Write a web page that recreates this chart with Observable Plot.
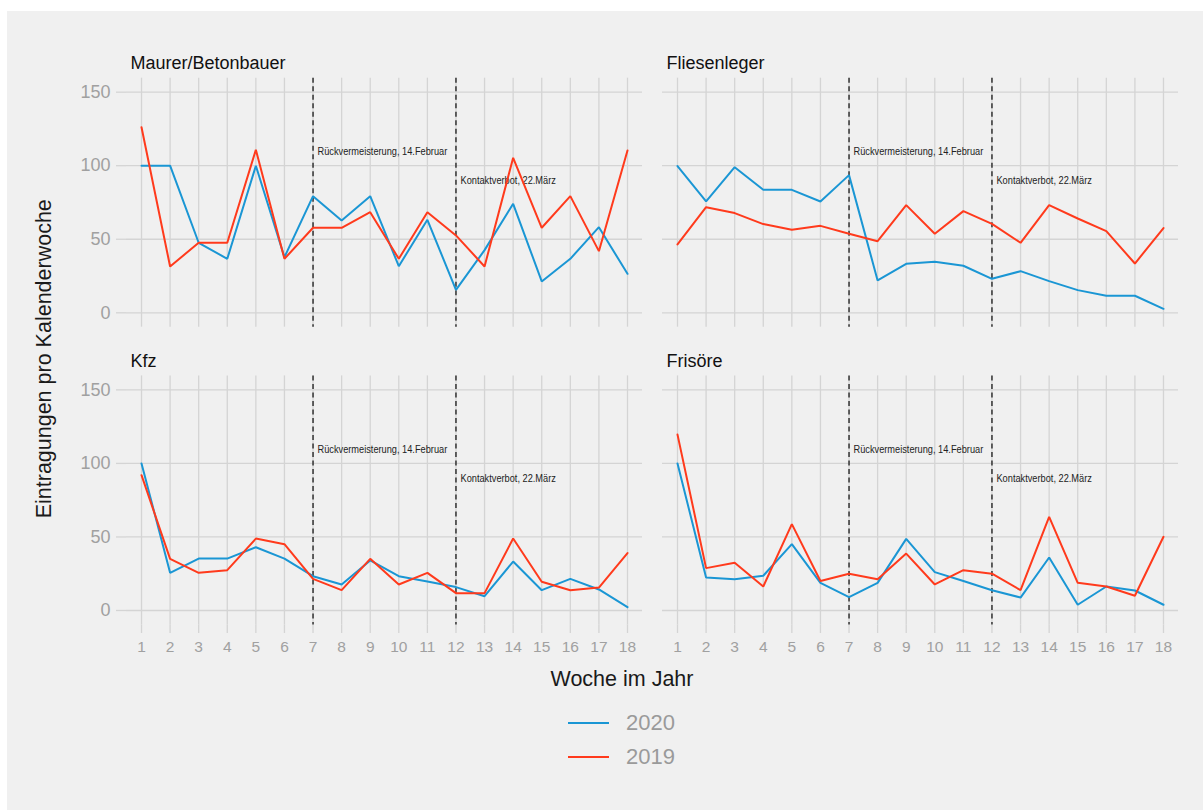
<!DOCTYPE html>
<html>
<head>
<meta charset="utf-8">
<script src="https://cdn.jsdelivr.net/npm/d3@7"></script>
<script src="https://cdn.jsdelivr.net/npm/@observablehq/plot@0.6"></script>
<style>
  html, body { margin: 0; padding: 0; background: #ffffff; width: 1203px; height: 810px; overflow: hidden; }
  #bg { position: absolute; left: 7px; top: 11px; width: 1196px; height: 799px; background: #f0f0f0; }
  #chart { position: absolute; left: 0; top: 0; }
  .ttl { position: absolute; font-family: "Liberation Sans", Arial, sans-serif; font-size: 21.5px; line-height: 21.5px; color: #1a1a1a; white-space: nowrap; text-align: center; }
  #ytitle { width: 400px; height: 21.5px; left: -154.7px; top: 348.25px; transform: rotate(-90deg); transform-origin: 50% 50%; }
  #xtitle { width: 400px; left: 422px; top: 668.8px; }
  .leg { position: absolute; left: 568px; height: 30px; display: flex; align-items: center; font-family: "Liberation Sans", Arial, sans-serif; font-size: 22px; color: #9a9a9a; }
  .leg .key { width: 41px; height: 2.4px; margin-right: 17px; }
</style>
</head>
<body>
<div id="bg"></div>
<div id="chart"></div>
<div id="ytitle" class="ttl">Eintragungen pro Kalenderwoche</div>
<div id="xtitle" class="ttl">Woche im Jahr</div>
<div id="legend"></div>
<script>
// ---- data ----
const weeks = [1,2,3,4,5,6,7,8,9,10,11,12,13,14,15,16,17,18];
const yTicks = [0, 50, 100, 150];
const panels = ["Maurer/Betonbauer", "Fliesenleger", "Kfz", "Frisöre"];
const years = ["2020", "2019"];
const colors = ["#1a96d4", "#ff3a1c"];

const maurer2020  = [100, 100, 47.6, 36.7, 100, 37.8, 79.3, 62.8, 79.3, 31.7, 63.2, 15.6, 42.6, 74.1, 21.3, 36.7, 58.2, 26.5];
const maurer2019  = [126.2, 31.5, 47.6, 47.6, 110.8, 36.7, 57.8, 57.8, 68.4, 36.7, 68.4, 52.6, 31.5, 105.4, 57.8, 79.3, 41.9, 110.4];
const fliesen2020 = [99.7, 75.7, 99, 83.6, 83.6, 75.7, 93.6, 22, 33.3, 34.7, 32, 23.1, 28.3, 21.5, 15.4, 11.6, 11.6, 2.7];
const fliesen2019 = [46.5, 71.8, 67.8, 60.3, 56.4, 59.1, 53.7, 48.7, 73.2, 53.7, 69.1, 60.5, 47.6, 73.2, 64.1, 55.5, 33.5, 57.6];
const kfz2020     = [100, 25.6, 35.3, 35.3, 43, 35.3, 23.3, 17.7, 34, 23.3, 19.7, 15.9, 9.7, 33.3, 13.8, 21.5, 14.3, 2.3];
const kfz2019     = [92, 35.1, 25.6, 27.4, 48.9, 45.1, 21.5, 13.8, 35.1, 17.7, 25.6, 11.8, 11.8, 48.9, 19.5, 13.8, 15.6, 39];
const friseur2020 = [100, 22.4, 21.3, 23.6, 45.1, 18.8, 9.1, 18.8, 48.7, 26.1, 20, 13.8, 8.8, 36, 3.9, 16.3, 13.6, 3.9];
const friseur2019 = [119.6, 28.8, 32.4, 16.3, 58.7, 20, 25, 21.3, 38.7, 17.7, 27.4, 25, 13.8, 63.7, 18.8, 16.3, 10, 50.1];

const eventWeeks  = [7, 12];
const eventLabels = ["Rückvermeisterung, 14.Februar", "Kontaktverbot, 22.März"];
const eventLabelY = [109.9, 90];

// ---- build tables ----
const series = [
  [maurer2020, maurer2019],
  [fliesen2020, fliesen2019],
  [kfz2020, kfz2019],
  [friseur2020, friseur2019]
];
const table = [];
panels.forEach((p, i) => {
  years.forEach((yr, j) => {
    series[i][j].forEach((v, k) => {
      table.push({panel: p, col: i % 2, row: Math.floor(i / 2), year: yr, week: weeks[k], value: v});
    });
  });
});
const panelTable = panels.map((p, i) => ({panel: p, col: i % 2, row: Math.floor(i / 2)}));
const events = eventWeeks.map((w, i) => ({week: w, label: eventLabels[i], y: eventLabelY[i]}));

const gridColor = "#d4d4d4";

const chart = Plot.plot({
  width: 1203,
  height: 660,
  marginLeft: 126,
  marginRight: 25,
  marginTop: 77.7,
  marginBottom: 35.6,
  style: {background: "transparent", fontFamily: "'Liberation Sans', Arial, sans-serif", overflow: "visible"},
  fx: {domain: [0, 1], paddingInner: 0.0373, paddingOuter: 0, round: false, axis: null},
  fy: {domain: [0, 1], paddingInner: 0.1636, paddingOuter: 0, round: false, axis: null},
  x: {domain: [0.475, 18.525]},
  y: {domain: [-9.8, 159.5]},
  color: {domain: years, range: colors},
  marks: [
    Plot.gridX(weeks, {stroke: gridColor, strokeOpacity: 1, strokeWidth: 1.3}),
    Plot.gridY(yTicks, {stroke: gridColor, strokeOpacity: 1, strokeWidth: 1.3}),
    Plot.axisX(weeks, {anchor: "bottom", label: null, tickSize: 8.6, tickPadding: 7, stroke: gridColor, strokeWidth: 1.3, fill: "#a0a0a0", fontSize: 15.5, tickFormat: d => String(d)}),
    Plot.axisY(yTicks, {anchor: "left", label: null, tickSize: 10, tickPadding: 6, stroke: gridColor, strokeWidth: 1.3, fill: "#a0a0a0", fontSize: 18, tickFormat: d => String(d)}),
    Plot.ruleX(events, {x: "week", stroke: "#111", strokeWidth: 1.25, strokeDasharray: "5,3.5"}),
    Plot.text(events, {x: "week", y: "y", text: "label", dx: 4.5, textAnchor: "start", lineAnchor: "middle", fontSize: 11.4, fill: "#222", fontFamily: "'Liberation Sans', Arial, sans-serif", className: "evlabel"}),
    Plot.lineY(table, {x: "week", y: "value", z: "year", stroke: "year", fx: "col", fy: "row", strokeWidth: 2, strokeLinejoin: "miter"}),
    Plot.text(panelTable, {fx: "col", fy: "row", text: "panel", frameAnchor: "top-left", textAnchor: "start", lineAnchor: "bottom", dx: 4, dy: -9, fontSize: 18, fill: "#111"})
  ]
});
document.getElementById("chart").appendChild(chart);

// condensed look of the event annotations (narrow font in the original)
d3.select(chart).selectAll("g.evlabel text").each(function() {
  const len = this.getComputedTextLength();
  this.setAttribute("textLength", (len * 0.81).toFixed(1));
  this.setAttribute("lengthAdjust", "spacingAndGlyphs");
});

// ---- legend ----
const legend = document.getElementById("legend");
const legendY = [723, 757];
years.forEach((yr, i) => {
  const item = document.createElement("div");
  item.className = "leg";
  item.style.top = (legendY[i] - 15) + "px";
  const key = document.createElement("span");
  key.className = "key";
  key.style.background = colors[i];
  const lab = document.createElement("span");
  lab.textContent = yr;
  item.appendChild(key);
  item.appendChild(lab);
  legend.appendChild(item);
});
</script>
</body>
</html>
